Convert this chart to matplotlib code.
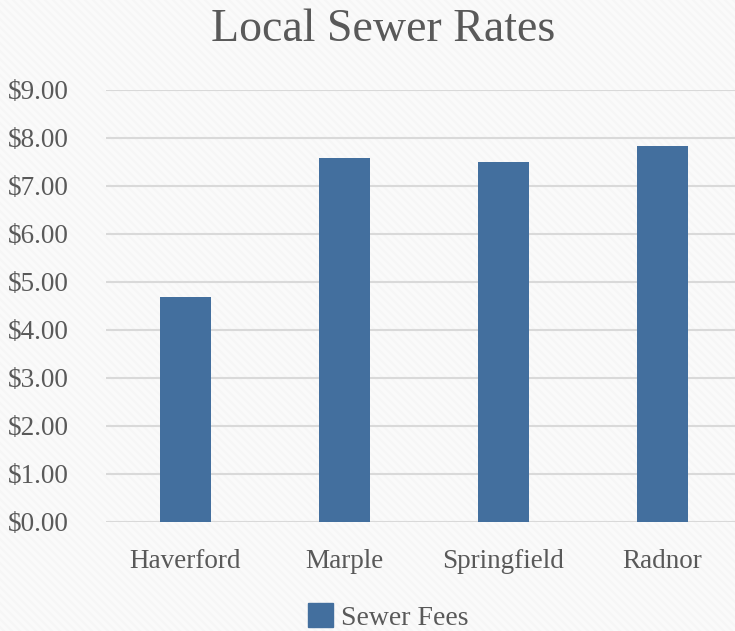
import matplotlib.pyplot as plt
import numpy as np
from matplotlib.lines import Line2D
from matplotlib.patches import Patch
from matplotlib.ticker import FuncFormatter

# Daten
towns = ["Haverford", "Marple", "Springfield", "Radnor"]
fees = [4.69, 7.58, 7.49, 7.83]

bar_color = "#436f9e"
text_color = "#595959"
grid_color = "#d9d9d9"

plt.rcParams["font.family"] = ["Liberation Serif", "DejaVu Serif"]

W, H = 735, 631
fig = plt.figure(figsize=(W / 100, H / 100), dpi=100)
fig.patch.set_facecolor("#f6f6f6")

# feine diagonale Streifen im Hintergrund
for k in np.arange(-H, W + H, 8):
    fig.add_artist(Line2D([k / W, (k + H) / W], [1, 0], transform=fig.transFigure,
                          color="white", lw=2.2, alpha=0.55, zorder=0))

ax = fig.add_axes([106 / W, 109.3 / H, (W - 106) / W, 432 / H])
ax.set_facecolor("none")

x = np.arange(len(towns))
ax.bar(x, fees, width=0.315, color=bar_color, zorder=3)

ax.set_ylim(0, 9)
ax.set_yticks(np.arange(0, 10, 1))
ax.yaxis.set_major_formatter(FuncFormatter(lambda v, p: f"${v:.2f}"))
ax.set_xlim(-0.5, -0.5 + (W - 106) / 159)
ax.set_xticks(x)
ax.set_xticklabels(towns)

ax.grid(axis="y", color=grid_color, linewidth=1.5, zorder=0)
for s in ax.spines.values():
    s.set_visible(False)
ax.tick_params(length=0, labelsize=19.5, colors=text_color)
ax.tick_params(axis="y", pad=27)
ax.tick_params(axis="x", pad=20)

fig.text(383 / W, 1 - 30 / H, "Local Sewer Rates", ha="center", va="center",
         fontsize=33, color=text_color)

fig.legend(handles=[Patch(color=bar_color, label="Sewer Fees")],
           loc="center", bbox_to_anchor=(388 / W, 1 - 617 / H), frameon=False,
           fontsize=20, labelcolor=text_color, handlelength=0.9, handleheight=0.9,
           handletextpad=0.3, borderpad=0)

fig.savefig("out.png", dpi=100, facecolor=fig.get_facecolor())
